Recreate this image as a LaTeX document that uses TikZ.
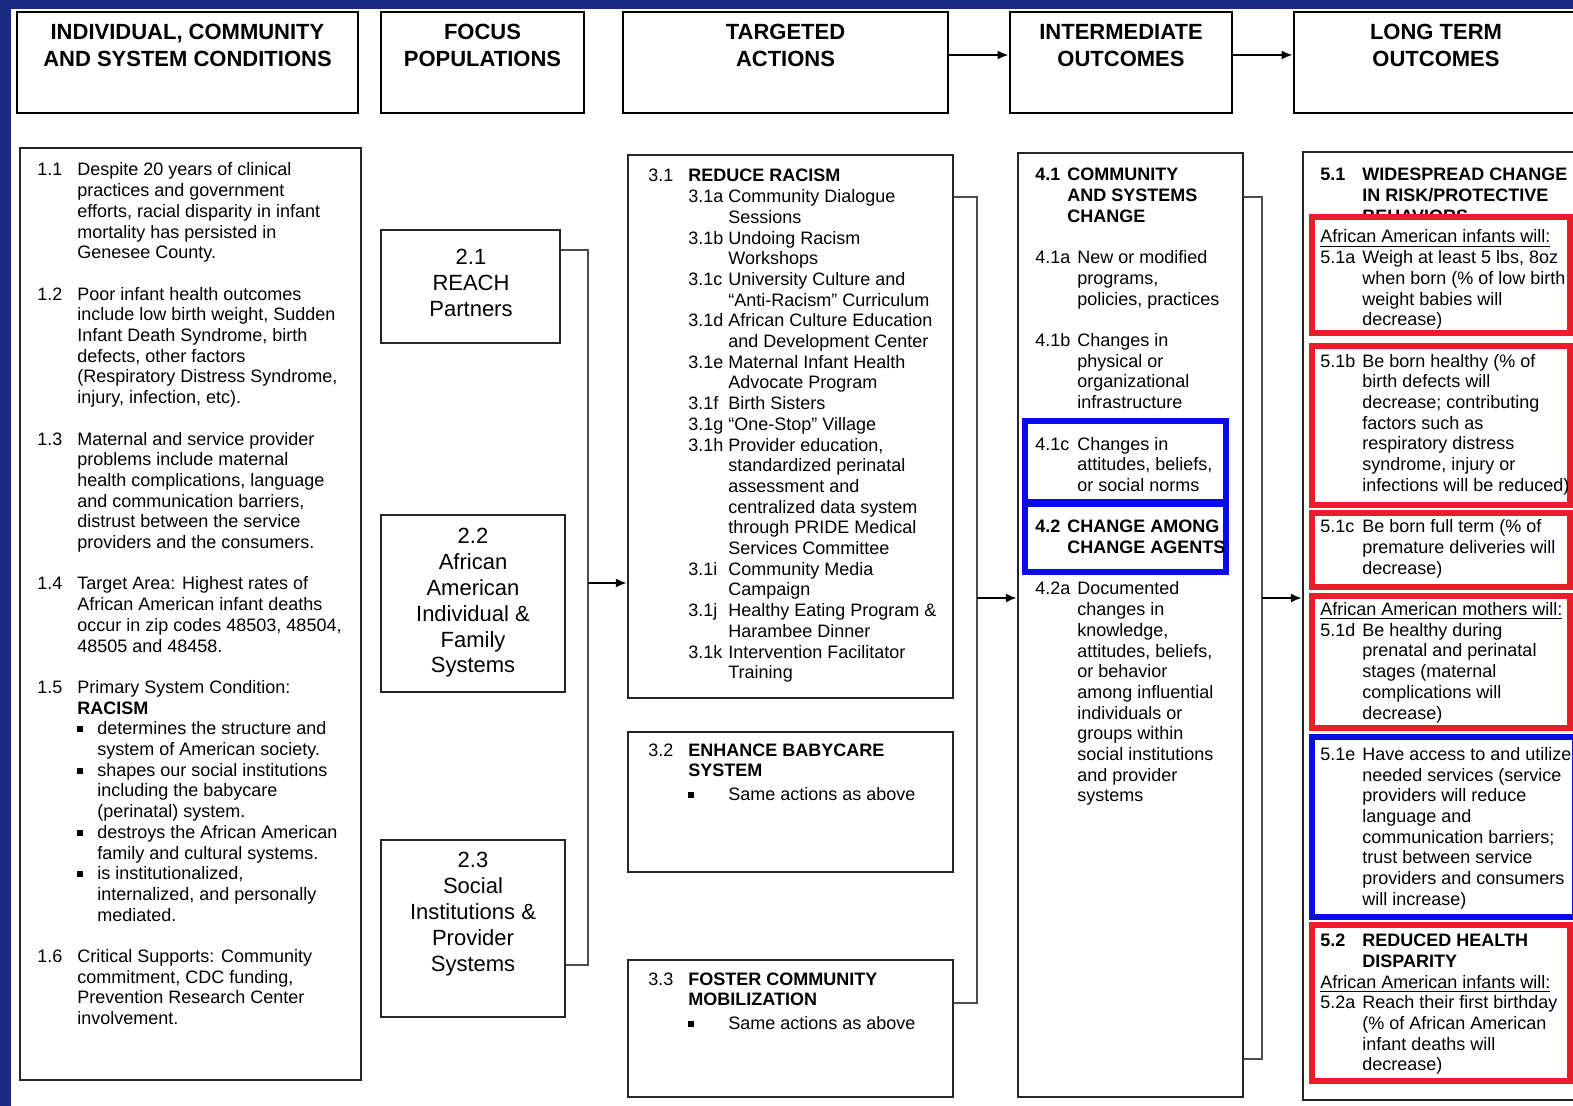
\documentclass[tikz,border=0pt]{standalone}
\usepackage{fontspec}
\setmainfont{Liberation Sans}
\usepackage{tikz}
\definecolor{slideblue}{HTML}{1B2B84}
\definecolor{mred}{HTML}{EC1C2A}
\definecolor{mblue}{HTML}{0B0BE8}
\usetikzlibrary{arrows.meta}
\usetikzlibrary{positioning}
\newcommand{\hitem}[3][20pt]{\hangindent=#1\hangafter=1\noindent\makebox[#1][l]{#2}#3\par}
\newcommand{\sqbul}{\rule[1.3pt]{3pt}{3pt}}
\newcommand{\bitem}[2][10pt]{\hangindent=#1\hangafter=1\noindent\makebox[#1][l]{\sqbul}#2\par}
\newcommand{\gap}{\vspace{10.35pt}}
\newcommand{\colpar}[2]{\parbox[t]{#1}{\rightskip=0pt plus 1fil #2}}

\begin{document}
\begin{tikzpicture}[x=0.5pt,y=-0.5pt]
    \tikzset{
      hdr/.style={draw=black, line width=1.4pt, inner sep=0pt, minimum height=50.5pt},
      hdrtxt/.style={inner sep=0pt, align=center, font=\fontsize{11}{13.5}\selectfont\bfseries},
      bx/.style={draw=black!85, line width=1.1pt, inner sep=0pt},
      poptxt/.style={inner sep=0pt, align=center, font=\fontsize{11}{12.9}\selectfont},
      txt/.style={inner sep=0pt, anchor=base west, font=\fontsize{9}{10.35}\selectfont},
      conn/.style={draw=black!70, line width=1pt},
      arr/.style={draw=black, line width=1pt, -{Latex[length=5.5pt,width=4.5pt]}},
      redbox/.style={draw=mred, line width=2.8pt, fill=white},
      bluebox/.style={draw=mblue, line width=2.8pt}}
    \useasboundingbox (0,0) rectangle (1573,1106);
    \fill[white] (0,0) rectangle (1573,1106);
    \fill[slideblue] (0,0) rectangle (1573,9);
    \fill[slideblue] (0,0) rectangle (11,1106);

    \node[hdr, minimum width=170.5pt] (h1) at (187.5,62.5) {};
    \node[hdr, minimum width=101.5pt] (h2) at (482.5,62.5) {};
    \node[hdr, minimum width=162.5pt] (h3) at (785.5,62.5) {};
    \node[hdr, minimum width=111pt] (h4) at (1121,62.5) {};
    \node[hdr, minimum width=142pt] (h5) at (1436,62.5) {};
    \node[hdrtxt, below=6.5pt of h1.north] (h1t) {INDIVIDUAL, COMMUNITY\\AND SYSTEM CONDITIONS};
    \node[hdrtxt, below=6.5pt of h2.north] (h2t) {FOCUS\\POPULATIONS};
    \node[hdrtxt, below=6.5pt of h3.north] (h3t) {TARGETED\\ACTIONS};
    \node[hdrtxt, below=6.5pt of h4.north] (h4t) {INTERMEDIATE\\OUTCOMES};
    \node[hdrtxt, below=6.5pt of h5.north] (h5t) {LONG TERM\\OUTCOMES};
    \draw[arr] ([yshift=3.75pt]h3.east) -- ([yshift=3.75pt]h4.west);
    \draw[arr] ([yshift=3.75pt]h4.east) -- ([yshift=3.75pt]h5.west);

    \node[bx, minimum width=170.5pt, minimum height=466pt] (c1) at (190.5,614) {};
    \node[bx, minimum width=89.5pt, minimum height=56.5pt] (p1) at (470.5,286.5) {};
    \node[bx, minimum width=92pt, minimum height=88.5pt] (p2) at (473,603.5) {};
    \node[bx, minimum width=92pt, minimum height=88.5pt] (p3) at (473,928.5) {};
    \node[bx, minimum width=162.5pt, minimum height=271.5pt] (a1) at (790.5,426.5) {};
    \node[bx, minimum width=162.5pt, minimum height=70pt] (a2) at (790.5,802) {};
    \node[bx, minimum width=162.5pt, minimum height=68.5pt] (a3) at (790.5,1028.5) {};
    \node[bx, minimum width=112.5pt, minimum height=472pt] (c4) at (1130.5,625) {};
    \node[bx, minimum width=138.5pt, minimum height=474pt] (c5) at (1441.5,626) {};

    \coordinate (bus2) at (588,583);
    \draw[conn] ([yshift=18pt]p1.east) -| (bus2) |- ([yshift=-18pt]p3.east);
    \draw[arr] (bus2) -- (bus2 -| a1.west);
    \coordinate (bus3) at (977,598);
    \draw[conn] ([yshift=-21.5pt]a1.north east) -| (bus3) |- ([yshift=13pt]a3.east);
    \draw[arr] (bus3) -- (bus3 -| c4.west);
    \coordinate (bus4) at (1262,598);
    \draw[conn] ([yshift=-22.5pt]c4.north east) -| (bus4) |- ([yshift=19.5pt]c4.south east);
    \draw[arr] (bus4) -- (bus4 -| c5.west);

    \node[poptxt] (p1t) at (471,283) {2.1\\REACH\\Partners};
    \node[poptxt] (p2t) at (473,603) {2.2\\African\\American\\Individual \&\\Family\\Systems};
    \node[poptxt] (p3t) at (473,914) {2.3\\Social\\Institutions \&\\Provider\\Systems};

    \node[txt] (t1) at (37,176) {\colpar{175pt}{%
      \hitem{1.1}{Despite 20 years of clinical\\practices and government\\efforts, racial disparity in infant\\mortality has persisted in\\Genesee County.}\gap
      \hitem{1.2}{Poor infant health outcomes\\include low birth weight, Sudden\\Infant Death Syndrome, birth\\defects, other factors\\(Respiratory Distress Syndrome,\\injury, infection, etc).}\gap
      \hitem{1.3}{Maternal and service provider\\problems include maternal\\health complications, language\\and communication barriers,\\distrust between the service\\providers and the consumers.}\gap
      \hitem{1.4}{Target Area: Highest rates of\\African American infant deaths\\occur in zip codes 48503, 48504,\\48505 and 48458.}\gap
      \hitem{1.5}{Primary System Condition:\\\textbf{RACISM}}
      {\leftskip=20pt
      \bitem{determines the structure and\\system of American society.}
      \bitem{shapes our social institutions\\including the babycare\\(perinatal) system.}
      \bitem{destroys the African American\\family and cultural systems.}
      \bitem{is institutionalized,\\internalized, and personally\\mediated.}}\gap
      \hitem{1.6}{Critical Supports: Community\\commitment, CDC funding,\\Prevention Research Center\\involvement.}}};

    \node[txt] (t31) at (648,182) {\colpar{165pt}{%
      \hitem{3.1}{\textbf{REDUCE RACISM}}
      {\leftskip=20pt
      \hitem{3.1a}{Community Dialogue\\Sessions}
      \hitem{3.1b}{Undoing Racism\\Workshops}
      \hitem{3.1c}{University Culture and\\``Anti-Racism'' Curriculum}
      \hitem{3.1d}{African Culture Education\\and Development Center}
      \hitem{3.1e}{Maternal Infant Health\\Advocate Program}
      \hitem{3.1f}{Birth Sisters}
      \hitem{3.1g}{``One-Stop'' Village}
      \hitem{3.1h}{Provider education,\\standardized perinatal\\assessment and\\centralized data system\\through PRIDE Medical\\Services Committee}
      \hitem{3.1i}{Community Media\\Campaign}
      \hitem{3.1j}{Healthy Eating Program \&\\Harambee Dinner}
      \hitem{3.1k}{Intervention Facilitator\\Training}}}};
    \node[txt] (t32) at (648,756) {\colpar{165pt}{%
      \hitem{3.2}{\textbf{ENHANCE BABYCARE\\SYSTEM}}\vspace{1.5pt}
      {\leftskip=20pt \bitem[20pt]{Same actions as above}}}};
    \node[txt] (t33) at (648,985) {\colpar{165pt}{%
      \hitem{3.3}{\textbf{FOSTER COMMUNITY\\MOBILIZATION}}\vspace{1.5pt}
      {\leftskip=20pt \bitem[20pt]{Same actions as above}}}};

    \draw[bluebox] (1025,421) rectangle (1226,502);
    \draw[bluebox] (1025,504) rectangle (1226,572);
    \node[txt] (t4) at (1035,181) {\colpar{112pt}{%
      \hitem[16pt]{\textbf{4.1}}{\textbf{COMMUNITY\\AND SYSTEMS\\CHANGE}}\gap
      \hitem[21pt]{4.1a}{New or modified\\programs,\\policies, practices}\gap
      \hitem[21pt]{4.1b}{Changes in\\physical or\\organizational\\infrastructure}\gap
      \hitem[21pt]{4.1c}{Changes in\\attitudes, beliefs,\\or social norms}\gap
      \hitem[16pt]{\textbf{4.2}}{\textbf{CHANGE AMONG\\CHANGE AGENTS}}\gap
      \hitem[21pt]{4.2a}{Documented\\changes in\\knowledge,\\attitudes, beliefs,\\or behavior\\among influential\\individuals or\\groups within\\social institutions\\and provider\\systems}}};

    \node[txt] (t51) at (1320,181) {\colpar{150pt}{%
      \hitem[21pt]{\textbf{5.1}}{\textbf{WIDESPREAD CHANGE\\IN RISK/PROTECTIVE\\BEHAVIORS}}}};
    \draw[redbox] (1312,217) rectangle (1570,333);
    \draw[redbox] (1312,346) rectangle (1570,505);
    \draw[redbox] (1312,513) rectangle (1570,587);
    \draw[redbox] (1312,596) rectangle (1570,728);
    \draw[bluebox, fill=white] (1312,737) rectangle (1575,917);
    \draw[redbox] (1312,925) rectangle (1570,1081);
    \node[txt] (t5) at (1320,243) {\colpar{150pt}{%
      \underline{African American infants will:}\par
      \hitem[21pt]{5.1a}{Weigh at least 5 lbs, 8oz\\when born (\% of low birth\\weight babies will\\decrease)}\gap
      \hitem[21pt]{5.1b}{Be born healthy (\% of\\birth defects will\\decrease; contributing\\factors such as\\respiratory distress\\syndrome, injury or\\infections will be reduced)}\gap
      \hitem[21pt]{5.1c}{Be born full term (\% of\\premature deliveries will\\decrease)}\gap
      \underline{African American mothers will:}\par
      \hitem[21pt]{5.1d}{Be healthy during\\prenatal and perinatal\\stages (maternal\\complications will\\decrease)}\gap
      \hitem[21pt]{5.1e}{Have access to and utilize\\needed services (service\\providers will reduce\\language and\\communication barriers;\\trust between service\\providers and consumers\\will increase)}\gap
      \hitem[21pt]{\textbf{5.2}}{\textbf{REDUCED HEALTH\\DISPARITY}}
      \underline{African American infants will:}\par
      \hitem[21pt]{5.2a}{Reach their first birthday\\(\% of African American\\infant deaths will\\decrease)}}};
\end{tikzpicture}
\end{document}
